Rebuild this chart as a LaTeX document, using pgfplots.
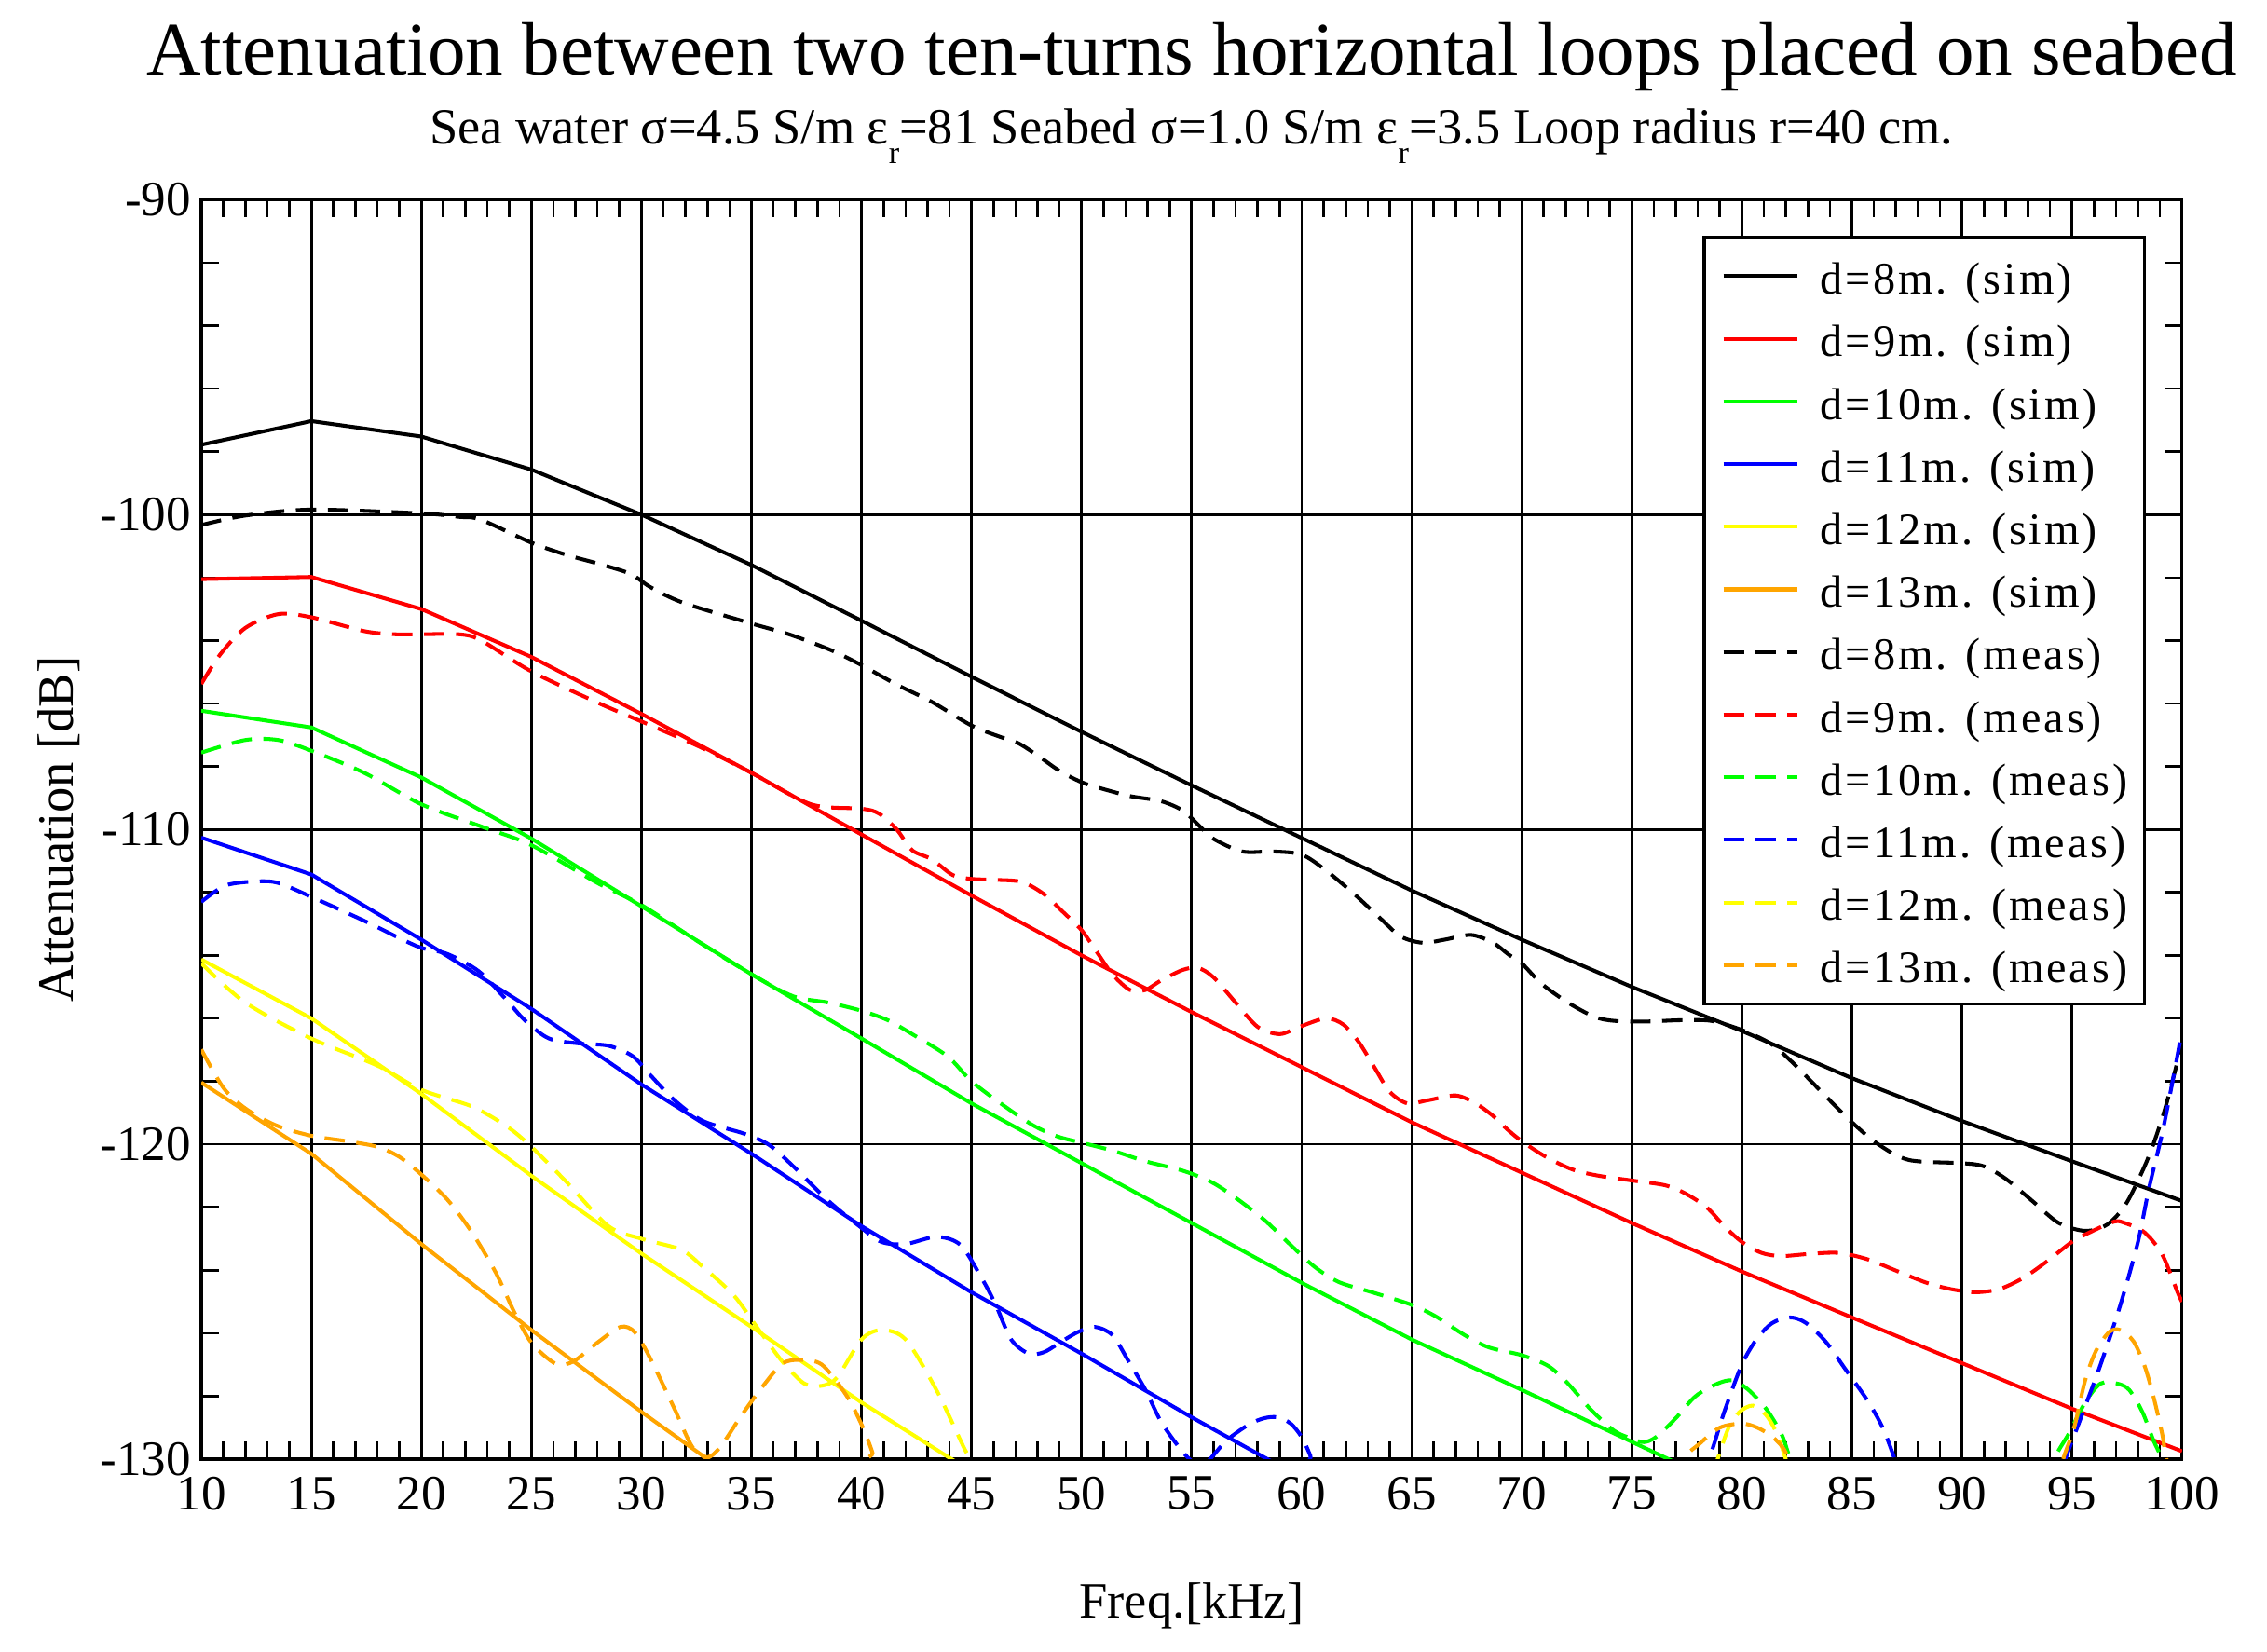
\documentclass[border=0pt]{standalone}
\usepackage{fontspec}
\setmainfont{Liberation Serif}
\usepackage{pgfplots}
\pgfplotsset{compat=1.18}
\definecolor{cgreen}{RGB}{0,255,0}
\definecolor{cblue}{RGB}{0,0,255}
\definecolor{cred}{RGB}{255,0,0}
\definecolor{cyellow}{RGB}{255,255,0}
\definecolor{corange}{RGB}{255,165,0}
\begin{document}
\begin{tikzpicture}
\useasboundingbox (-69.25pt,-66.36pt) rectangle (710.75pt,502.04pt);
\begin{axis}[
  scale only axis, width=681.5pt, height=433.3pt,
  xmin=10, xmax=100, ymin=-130, ymax=-90,
  xtick={10,15,...,100},
  xticklabels={10,15,20,25,30,35,40,45,50,55,60,65,70,75,80,85,90,95,100},
  ytick={-130,-120,-110,-100,-90},
  yticklabels={-130,-120,-110,-100,-90},
  minor x tick num=4, minor y tick num=4,
  tick align=inside,
  major tick length=6pt, minor tick length=6pt,
  every tick/.style={black, line width=0.85pt},
  xmajorgrids, ymajorgrids,
  major grid style={black, line width=0.9pt},
  axis line style={line width=1.1pt},
  ticklabel style={font=\fontsize{17}{17}\selectfont},
  xticklabel style={yshift=-2.6pt},
  xlabel={Freq.[kHz]},
  ylabel={Attenuation [dB]},
  label style={font=\fontsize{17.5}{17.5}\selectfont},
  xlabel style={at={(axis description cs:0.5,-0.1258)}, anchor=base},
  ylabel style={at={(axis description cs:-0.0646,0.5)}, anchor=base},
  clip mode=individual,
  legend cell align=left,
  legend image code/.code={\draw[#1] (0pt,0pt) -- (25.5pt,0pt);},
  legend style={at={(axis description cs:1,1)}, anchor=north east,
    xshift=-12.3pt, yshift=-12.5pt, draw=black, line width=1pt,
    inner xsep=6pt, inner ysep=2.5pt, row sep=0pt, column sep=7pt,
    nodes={inner sep=0pt, text height=16.925pt, text depth=4.625pt},
    font=\fontsize{15.5}{15.5}\selectfont\addfontfeatures{LetterSpace=6}},
  sim/.style={line width=1.3pt},
  meas/.style={line width=1.3pt, dash pattern=on 7pt off 4pt, smooth, tension=0.5},
]
\coordinate (tc) at (axis description cs:0.5,1);
% ---------- simulated ----------
\addplot[sim, black] coordinates {(10,-97.78) (15,-97.03) (20,-97.52) (25,-98.57) (30,-100.0) (35,-101.6) (40,-103.37) (45,-105.15) (50,-106.9) (55,-108.6) (60,-110.27) (65,-111.94) (70,-113.5) (75,-115.0) (80,-116.4) (85,-117.9) (90,-119.26) (95,-120.54) (100,-121.8)};
\addlegendentry{d=8m. (sim)}
\addplot[sim, cred] coordinates {(10,-102.05) (15,-101.98) (20,-103.0) (25,-104.52) (30,-106.33) (35,-108.2) (40,-110.16) (45,-112.1) (50,-114.0) (55,-115.8) (60,-117.55) (65,-119.3) (70,-120.9) (75,-122.5) (80,-124.04) (85,-125.5) (90,-126.95) (95,-128.4) (100,-129.75)};
\addlegendentry{d=9m. (sim)}
\addplot[sim, cgreen] coordinates {(10,-106.23) (15,-106.76) (20,-108.35) (25,-110.29) (30,-112.44) (35,-114.6) (40,-116.64) (45,-118.7) (50,-120.6) (55,-122.5) (60,-124.4) (65,-126.2) (70,-127.8) (75,-129.45) (80,-131.1)};
\addlegendentry{d=10m. (sim)}
\addplot[sim, cblue] coordinates {(10,-110.26) (15,-111.43) (20,-113.5) (25,-115.7) (30,-118.1) (35,-120.3) (40,-122.6) (45,-124.7) (50,-126.65) (55,-128.67) (60,-130.6)};
\addlegendentry{d=11m. (sim)}
\addplot[sim, cyellow] coordinates {(10,-114.13) (15,-116.0) (20,-118.4) (25,-121.0) (30,-123.47) (35,-125.8) (40,-128.2) (45,-130.4)};
\addlegendentry{d=12m. (sim)}
\addplot[sim, corange] coordinates {(10,-118.04) (15,-120.3) (20,-123.17) (25,-125.9) (30,-128.5) (35,-131.0)};
\addlegendentry{d=13m. (sim)}
% ---------- measured ----------
\addplot[meas, black] coordinates {(10,-100.33) (12,-100.03) (15,-99.84) (20,-99.96) (21.7,-100.07) (22.7,-100.16) (25,-100.89) (26.6,-101.28) (28,-101.55) (29.5,-101.88) (30.4,-102.3) (31.9,-102.8) (35,-103.46) (36.7,-103.8) (38.6,-104.3) (40,-104.78) (41.6,-105.4) (43.2,-105.95) (45,-106.7) (46.3,-107.06) (47.1,-107.25) (48,-107.65) (49,-108.14) (50,-108.5) (50.9,-108.7) (52.2,-108.94) (53.6,-109.1) (54.6,-109.4) (55.3,-109.85) (56,-110.3) (57.3,-110.7) (58.7,-110.7) (60,-110.8) (61.1,-111.3) (62.4,-112.06) (63.6,-112.84) (64.5,-113.4) (65.5,-113.6) (66.5,-113.5) (67.7,-113.35) (68.7,-113.6) (69.4,-113.97) (70,-114.25) (70.9,-114.9) (72.1,-115.5) (73.3,-115.95) (74.2,-116.08) (75.7,-116.1) (77.2,-116.06) (78.6,-116.08) (80,-116.37) (81.3,-116.8) (82.3,-117.4) (83.5,-118.25) (85,-119.3) (86.2,-120.0) (87.6,-120.5) (90,-120.6) (91,-120.7) (92,-121.1) (93.2,-121.8) (94.4,-122.5) (95.6,-122.75) (96.6,-122.55) (97.45,-121.9) (98.3,-120.7) (98.8,-119.8) (99.3,-118.7) (100,-116.8)};
\addlegendentry{d=8m. (meas)}
\addplot[meas, cred] coordinates {(10,-105.38) (10.85,-104.45) (12,-103.6) (13.5,-103.16) (15,-103.26) (17.4,-103.7) (18.8,-103.8) (20,-103.8) (21.7,-103.8) (22.7,-103.99) (25,-104.98) (28,-105.97) (30,-106.57) (32.6,-107.36) (35,-108.2) (37.7,-109.2) (40,-109.34) (40.8,-109.5) (41.6,-110.0) (42.3,-110.66) (43.2,-110.95) (44.15,-111.45) (45,-111.57) (46.1,-111.6) (47.3,-111.67) (48.3,-112.06) (49.2,-112.65) (50,-113.2) (50.7,-113.9) (51.4,-114.6) (52.2,-115.1) (52.9,-115.1) (53.6,-114.8) (54.6,-114.46) (55.3,-114.4) (56,-114.7) (57,-115.5) (58,-116.27) (59,-116.5) (59.9,-116.27) (61.1,-116.0) (61.9,-116.2) (62.6,-116.76) (63.3,-117.55) (64,-118.33) (64.8,-118.7) (65.75,-118.6) (67,-118.45) (67.9,-118.7) (68.7,-119.1) (69.3,-119.5) (70,-119.9) (71.1,-120.4) (72.3,-120.8) (73.5,-121.0) (75,-121.15) (76.5,-121.3) (77.4,-121.55) (78.4,-122.0) (79.2,-122.6) (80,-123.1) (80.9,-123.45) (81.8,-123.55) (83.1,-123.48) (84.4,-123.45) (85.7,-123.65) (87.1,-124.04) (88.4,-124.4) (89.5,-124.6) (90.6,-124.7) (91.7,-124.6) (92.8,-124.24) (93.9,-123.7) (95,-123.1) (95.8,-122.8) (96.9,-122.46) (97.4,-122.5) (98.3,-122.8) (99.1,-123.5) (99.8,-124.7) (100,-125.0)};
\addlegendentry{d=9m. (meas)}
\addplot[meas, cgreen] coordinates {(10,-107.56) (12,-107.16) (13.5,-107.16) (15,-107.5) (17.4,-108.2) (20,-109.2) (22.7,-109.9) (25,-110.5) (28,-111.7) (30,-112.4) (32.6,-113.57) (35,-114.6) (36.9,-115.3) (38.5,-115.5) (40,-115.76) (41.2,-116.06) (42.3,-116.5) (43.9,-117.2) (45,-118.0) (46.4,-118.74) (47.8,-119.4) (48.9,-119.75) (50,-119.95) (51.4,-120.2) (52.9,-120.54) (54.6,-120.84) (55.9,-121.2) (57,-121.7) (58.3,-122.4) (59.5,-123.2) (60.6,-123.9) (61.7,-124.38) (63.2,-124.7) (65,-125.1) (66.1,-125.47) (67.4,-126.06) (68.5,-126.45) (70,-126.7) (71.2,-127.04) (72.1,-127.6) (73.1,-128.4) (74.2,-129.1) (75,-129.35) (75.55,-129.46) (76.1,-129.3) (77,-128.7) (77.9,-128.0) (78.9,-127.6) (79.6,-127.5) (80.3,-127.8) (81.1,-128.4) (81.8,-129.2) (82.2,-130) (83,-131.5) (93.5,-131.5) (94.2,-130) (94.85,-129.2) (95.6,-128.2) (96.3,-127.6) (97.05,-127.6) (97.6,-127.8) (98.2,-128.5) (98.7,-129.4) (99.1,-130) (100,-131.5)};
\addlegendentry{d=10m. (meas)}
\addplot[meas, cblue] coordinates {(10,-112.3) (11.1,-111.78) (12.5,-111.65) (13.5,-111.7) (15,-112.14) (17.4,-112.9) (19,-113.45) (20,-113.76) (21.2,-113.96) (22.6,-114.5) (23.8,-115.36) (24.7,-116.06) (25.8,-116.64) (27.2,-116.8) (28.5,-116.87) (29.6,-117.2) (30.4,-117.8) (31.5,-118.6) (32.8,-119.26) (34.7,-119.67) (35.8,-120.02) (36.9,-120.7) (38.5,-121.8) (39.9,-122.6) (40.9,-123.1) (42,-123.17) (43.4,-122.94) (44.5,-123.2) (45.5,-124.3) (46.1,-125.1) (46.8,-126.2) (47.6,-126.65) (48.3,-126.6) (49.1,-126.26) (49.85,-125.96) (50.6,-125.8) (51.4,-126.06) (52.1,-126.85) (52.9,-127.8) (53.6,-128.8) (54.4,-129.6) (54.9,-130) (55.4,-130.3) (55.9,-129.95) (56.6,-129.4) (57.6,-128.9) (58.3,-128.7) (58.9,-128.67) (59.5,-128.87) (60,-129.3) (60.4,-129.9) (61,-131) (77.5,-131.5) (78.5,-130) (79.2,-128.5) (80,-127.0) (80.7,-126.16) (81.4,-125.67) (82.2,-125.5) (82.9,-125.67) (83.8,-126.26) (84.7,-127.14) (85.7,-128.13) (86.4,-129.0) (86.9,-129.9) (87.5,-131) (94,-131.5) (94.7,-130) (95.4,-128.7) (96.3,-127.0) (97.2,-125.1) (98,-123.1) (98.5,-121.4) (99.1,-119.65) (99.6,-117.9) (100,-116.4)};
\addlegendentry{d=11m. (meas)}
\addplot[meas, cyellow] coordinates {(10,-114.25) (12,-115.5) (15,-116.64) (18,-117.5) (20,-118.27) (22.3,-118.8) (23.9,-119.44) (25,-120.08) (26.6,-121.2) (28.5,-122.6) (30,-123.0) (31.8,-123.35) (32.8,-123.9) (34.2,-124.8) (35.3,-125.86) (36.4,-126.9) (37.4,-127.6) (38.2,-127.67) (38.9,-127.4) (40,-126.2) (40.9,-125.9) (42,-126.2) (43.4,-127.8) (44.7,-129.7) (45,-130) (45.8,-131.5) (78.2,-131.5) (78.9,-130) (79.4,-129) (79.9,-128.5) (80.5,-128.3) (81.1,-128.6) (81.6,-129.2) (82,-130) (82.7,-131.5)};
\addlegendentry{d=12m. (meas)}
\addplot[meas, corange] coordinates {(10,-116.99) (11,-118.2) (12,-118.86) (13.4,-119.4) (15,-119.73) (16.6,-119.9) (18,-120.08) (19,-120.4) (20,-120.96) (21.2,-121.77) (22.3,-122.8) (23.4,-124.1) (24.2,-125.3) (25,-126.3) (26.1,-126.97) (26.9,-126.9) (28,-126.3) (29.05,-125.8) (29.7,-125.97) (30.4,-126.8) (31.5,-128.4) (32.3,-129.6) (33,-129.94) (33.6,-129.6) (34.5,-128.66) (35.5,-127.7) (36.4,-126.97) (37.2,-126.85) (38.2,-127.0) (39.3,-127.96) (40,-128.9) (40.5,-129.8) (41,-131) (76.7,-131.5) (77.4,-130) (78.1,-129.5) (79,-129.0) (80,-128.87) (80.7,-129.0) (81.4,-129.3) (82,-129.8) (82.5,-131) (94,-131.5) (94.6,-130) (95.1,-129) (95.6,-127.5) (96.1,-126.55) (96.7,-125.96) (97.2,-125.9) (97.8,-126.26) (98.3,-127.04) (98.7,-128.0) (99.1,-129.2) (99.3,-130) (100,-132)};
\addlegendentry{d=13m. (meas)}
\end{axis}
\node[anchor=base, font=\fontsize{26}{26}\selectfont, yshift=43.05pt] at (tc) {Attenuation between two ten-turns horizontal loops placed on seabed};
\node[anchor=base, font=\fontsize{17.45}{17.45}\selectfont, yshift=19.33pt] at (tc) {Sea water σ=4.5 S/m ε\raisebox{-6.7pt}{\fontsize{11}{11}\selectfont r}=81 Seabed σ=1.0 S/m ε\raisebox{-6.7pt}{\fontsize{11}{11}\selectfont r}=3.5 Loop radius r=40 cm.};
\end{tikzpicture}
\end{document}
